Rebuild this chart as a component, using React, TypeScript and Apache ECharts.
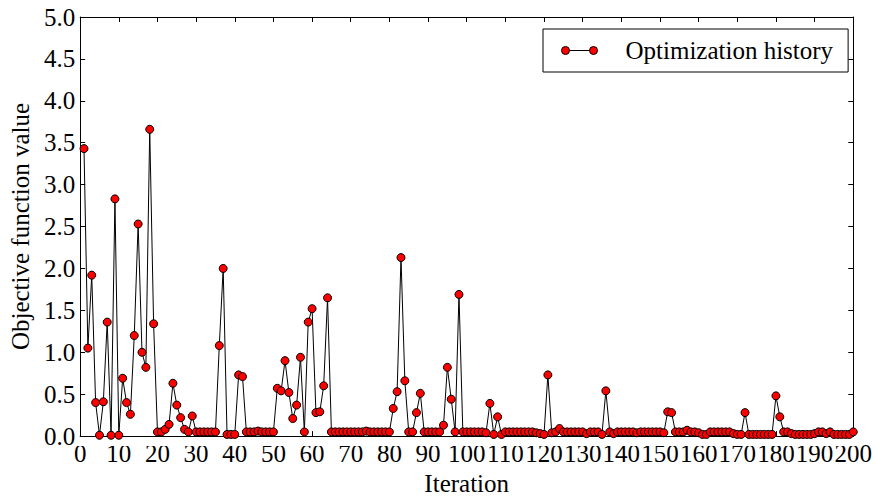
import React, { useEffect, useRef } from "react";
import * as echarts from "echarts";

const objectiveValues: number[] = [
  3.43, 1.05, 1.92, 0.40, 0.01, 0.41, 1.36, 0.01, 2.83, 0.01,
  0.69, 0.40, 0.26, 1.20, 2.53, 1.00, 0.82, 3.66, 1.34, 0.05,
  0.05, 0.08, 0.14, 0.63, 0.37, 0.22, 0.08, 0.05, 0.24, 0.05,
  0.05, 0.05, 0.05, 0.05, 0.05, 1.08, 2.00, 0.02, 0.02, 0.02,
  0.73, 0.71, 0.05, 0.05, 0.05, 0.06, 0.05, 0.05, 0.05, 0.05,
  0.57, 0.54, 0.90, 0.52, 0.21, 0.37, 0.94, 0.05, 1.36, 1.52,
  0.28, 0.29, 0.60, 1.65, 0.05, 0.05, 0.05, 0.05, 0.05, 0.05,
  0.05, 0.05, 0.05, 0.06, 0.05, 0.05, 0.05, 0.05, 0.05, 0.05,
  0.33, 0.53, 2.13, 0.66, 0.05, 0.05, 0.28, 0.51, 0.05, 0.05,
  0.05, 0.05, 0.05, 0.13, 0.82, 0.44, 0.05, 1.69, 0.05, 0.05,
  0.05, 0.05, 0.05, 0.05, 0.04, 0.39, 0.02, 0.23, 0.02, 0.05,
  0.05, 0.05, 0.05, 0.05, 0.05, 0.05, 0.05, 0.04, 0.03, 0.02,
  0.73, 0.04, 0.05, 0.09, 0.05, 0.05, 0.05, 0.05, 0.05, 0.05,
  0.03, 0.05, 0.05, 0.05, 0.02, 0.54, 0.05, 0.03, 0.05, 0.05,
  0.05, 0.05, 0.05, 0.04, 0.05, 0.05, 0.05, 0.05, 0.05, 0.05,
  0.04, 0.29, 0.28, 0.05, 0.05, 0.05, 0.07, 0.05, 0.05, 0.04,
  0.02, 0.02, 0.05, 0.05, 0.05, 0.05, 0.05, 0.05, 0.03, 0.02,
  0.02, 0.28, 0.02, 0.02, 0.02, 0.02, 0.02, 0.02, 0.02, 0.48,
  0.23, 0.05, 0.05, 0.03, 0.02, 0.02, 0.02, 0.02, 0.02, 0.03,
  0.05, 0.05, 0.03, 0.05, 0.02, 0.02, 0.02, 0.02, 0.02, 0.05,
];

const firstIteration = 1;
const iterations: number[] = objectiveValues.map((_, i) => firstIteration + i);

const seriesName = "Optimization history";
const xAxisTitle = "Iteration";
const yAxisTitle = "Objective function value";

const FONT = "'Liberation Serif', 'Times New Roman', serif";
const FS = 25;

export default function App() {
  const ref = useRef<HTMLDivElement>(null);

  useEffect(() => {
    if (!ref.current) return;
    const chart = echarts.init(ref.current, undefined, { renderer: "svg" });

    const axisLine = { show: true, onZero: false, lineStyle: { color: "#000", width: 1 } };
    const tick = { show: true, inside: true, length: 5, lineStyle: { color: "#000", width: 1 } };

    const legendIcon =
      "path://M0,4 a4,4 0 1,0 8,0 a4,4 0 1,0 -8,0 M8,4 L28,4 M28,4 a4,4 0 1,0 8,0 a4,4 0 1,0 -8,0";

    chart.setOption({
      animation: false,
      backgroundColor: "#fff",
      textStyle: { fontFamily: FONT },
      grid: { left: 77, right: 21, top: 17, bottom: 60, containLabel: false },
      legend: {
        show: true,
        left: 543,
        top: 29,
        orient: "horizontal",
        padding: [9, 15, 9, 18],
        borderColor: "#000",
        borderWidth: 1,
        borderRadius: 0,
        backgroundColor: "#fff",
        itemWidth: 36,
        itemHeight: 8,
        icon: legendIcon,
        itemStyle: { color: "#ff0000", borderColor: "#000", borderWidth: 1 },
        textStyle: {
          fontFamily: FONT,
          fontSize: FS,
          color: "#000",
          padding: [0, 0, 0, 23],
        },
        data: [seriesName],
      },
      // mask below the bottom axis so that markers sitting on zero look clipped
      graphic: [
        {
          type: "rect",
          shape: { x: 76, y: 441.5, width: 782, height: 4.5 },
          style: { fill: "#fff" },
          z: 100,
          silent: true,
        },
      ],
      xAxis: [
        {
          type: "value",
          position: "bottom",
          min: 0,
          max: 200,
          interval: 10,
          name: xAxisTitle,
          nameLocation: "middle",
          nameGap: 34,
          nameTextStyle: { fontFamily: FONT, fontSize: FS, color: "#000" },
          axisLine,
          axisTick: tick,
          splitLine: { show: false },
          axisLabel: {
            fontFamily: FONT,
            fontSize: FS,
            color: "#000",
            margin: 5,
            hideOverlap: false,
          },
        },
        {
          type: "value",
          position: "top",
          min: 0,
          max: 200,
          interval: 10,
          axisLine,
          axisTick: tick,
          splitLine: { show: false },
          axisLabel: { show: false },
        },
      ],
      yAxis: [
        {
          type: "value",
          position: "left",
          min: 0,
          max: 5,
          interval: 0.5,
          name: yAxisTitle,
          nameLocation: "middle",
          nameGap: 44,
          nameTextStyle: { fontFamily: FONT, fontSize: FS, color: "#000" },
          axisLine,
          axisTick: tick,
          splitLine: { show: false },
          axisLabel: {
            fontFamily: FONT,
            fontSize: FS,
            color: "#000",
            margin: 5,
            formatter: (v: number) => v.toFixed(1),
          },
        },
        {
          type: "value",
          position: "right",
          min: 0,
          max: 5,
          interval: 0.5,
          axisLine,
          axisTick: tick,
          splitLine: { show: false },
          axisLabel: { show: false },
        },
      ],
      series: [
        {
          name: seriesName,
          type: "line",
          xAxisIndex: 0,
          yAxisIndex: 0,
          data: iterations.map((it, i) => [it, objectiveValues[i]]),
          symbol: "circle",
          symbolSize: 8,
          showSymbol: true,
          showAllSymbol: true,
          clip: true,
          lineStyle: { color: "#000", width: 1 },
          itemStyle: { color: "#ff0000", borderColor: "#000", borderWidth: 1 },
          emphasis: { disabled: true },
          z: 3,
        },
      ],
    });

    return () => chart.dispose();
  }, []);

  return (
    <div
      ref={ref}
      style={{ position: "fixed", left: 0, top: 0, width: 875, height: 501, background: "#fff" }}
    />
  );
}
